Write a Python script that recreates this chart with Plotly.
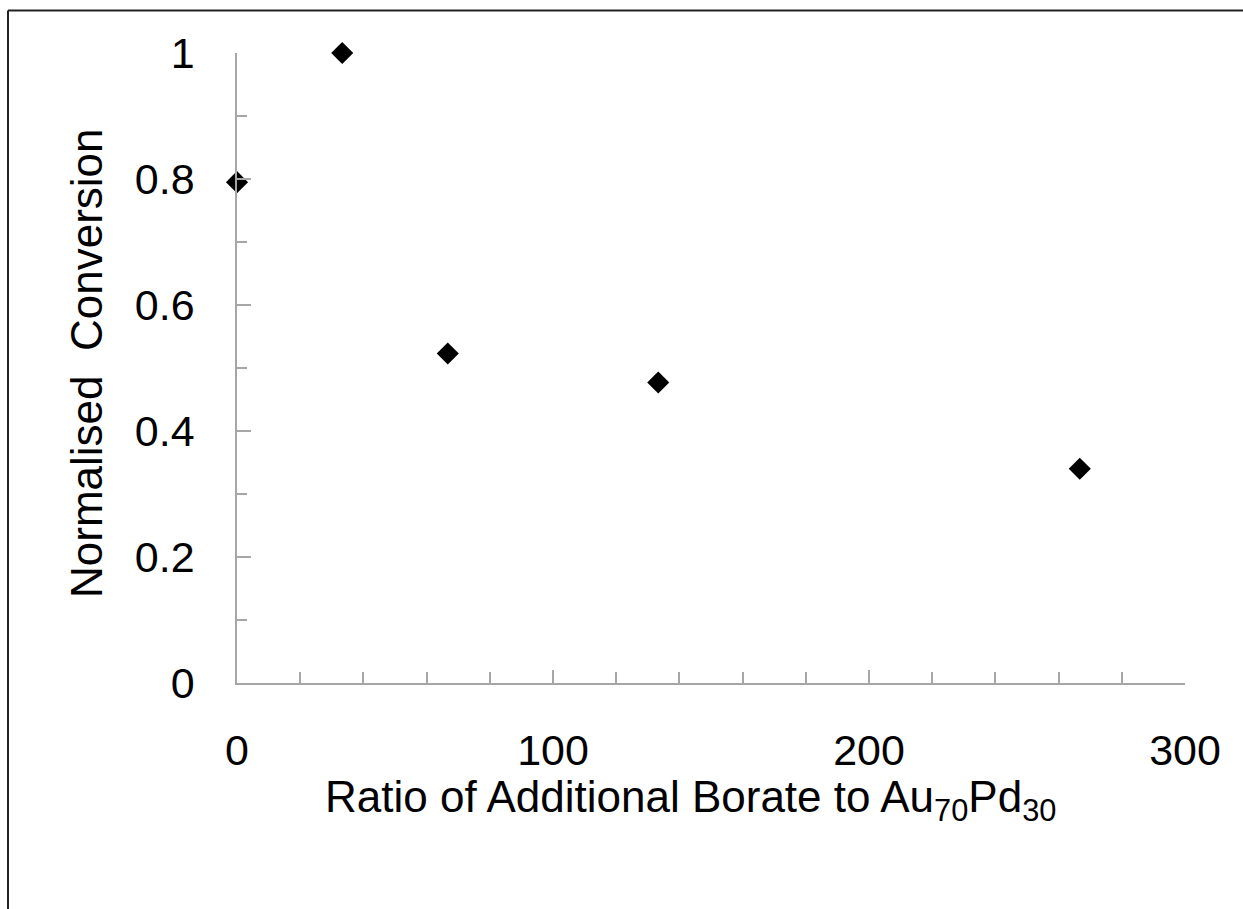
import plotly.graph_objects as go

# Borate additions relative to the Au70Pd30 catalyst and resulting normalised conversion
borate_ratio = [0, 33.3, 66.7, 133.3, 266.7]
normalised_conversion = [0.795, 1.0, 0.523, 0.477, 0.340]

x_tick_values = [0, 100, 200, 300]
y_tick_values = [0, 0.2, 0.4, 0.6, 0.8, 1.0]
y_tick_labels = ["0", "0.2", "0.4", "0.6", "0.8", "1"]

W, H = 1243, 909
L, R, T, B = 237, 58, 53, 226
pw, ph = W - L - R, H - T - B

font_family = "Liberation Sans, Arial, sans-serif"
axis_grey = "#a6a6a6"

fig = go.Figure()
fig.add_trace(go.Scatter(
    x=borate_ratio,
    y=normalised_conversion,
    mode="markers",
    marker=dict(symbol="diamond", size=17, color="black"),
    showlegend=False,
    cliponaxis=False,
))

fig.update_layout(
    width=W,
    height=H,
    margin=dict(l=L, r=R, t=T, b=B),
    paper_bgcolor="white",
    plot_bgcolor="white",
    font=dict(family=font_family, color="black"),
)

fig.update_xaxes(
    range=[0, 300],
    tickmode="array",
    tickvals=x_tick_values,
    ticktext=[str(v) for v in x_tick_values],
    ticks="inside",
    ticklen=13,
    tickwidth=1.5,
    tickcolor=axis_grey,
    minor=dict(dtick=20, ticks="inside", ticklen=11, tickwidth=1.5, tickcolor=axis_grey),
    showline=True,
    linecolor=axis_grey,
    linewidth=1.5,
    showgrid=False,
    zeroline=False,
    tickfont=dict(size=43),
    ticklabelstandoff=29,
)

fig.update_yaxes(
    range=[0, 1],
    tickmode="array",
    tickvals=y_tick_values,
    ticktext=y_tick_labels,
    ticks="inside",
    ticklen=14,
    tickwidth=1.5,
    tickcolor=axis_grey,
    minor=dict(dtick=0.1, ticks="inside", ticklen=10, tickwidth=1.5, tickcolor=axis_grey),
    showline=True,
    linecolor=axis_grey,
    linewidth=1.5,
    showgrid=False,
    zeroline=False,
    tickfont=dict(size=43),
    ticklabelstandoff=32,
)

# Axis titles placed as paper annotations
fig.add_annotation(
    text="Ratio of Additional Borate to Au<sub>70</sub>Pd<sub>30</sub>",
    xref="paper", yref="paper",
    x=(690 - L) / pw, y=-(800 - T - ph) / ph,
    xanchor="center", yanchor="middle",
    showarrow=False,
    font=dict(size=44),
)
fig.add_annotation(
    text="Normalised  Conversion",
    xref="paper", yref="paper",
    x=(86 - L) / pw, y=1 - (363 - T) / ph,
    xanchor="center", yanchor="middle",
    textangle=-90,
    showarrow=False,
    font=dict(size=44),
)

# Frame lines along the top and left edges of the page
left_px, top_px = 8, 10.5
x_left = (left_px - L) / pw
y_top = 1 + (T - top_px) / ph
y_bottom = -(H - T - ph) / ph
x_right = 1 + R / pw
fig.add_shape(type="line", xref="paper", yref="paper",
              x0=x_left, x1=x_right, y0=y_top, y1=y_top,
              line=dict(color="#222222", width=2))
fig.add_shape(type="line", xref="paper", yref="paper",
              x0=x_left, x1=x_left, y0=y_bottom, y1=y_top,
              line=dict(color="#222222", width=2))

fig.write_html("out.html")
